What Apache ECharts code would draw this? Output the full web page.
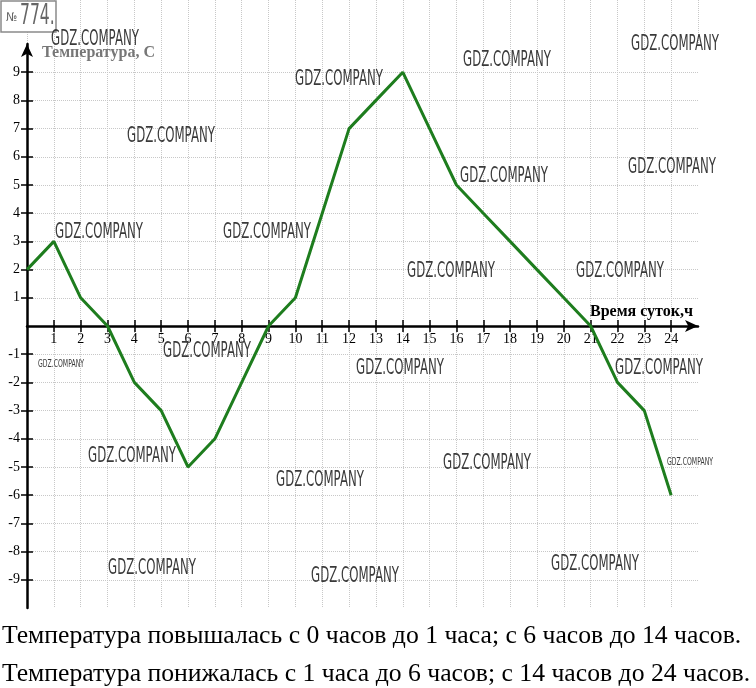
<!DOCTYPE html>
<html><head><meta charset="utf-8">
<script src="https://cdn.jsdelivr.net/npm/echarts@6/dist/echarts.min.js"></script>
<style>html,body{margin:0;padding:0;background:#fff}#c{width:756px;height:688px}</style>
</head><body><div id="c"></div>
<script>
const hours = [0,1,2,3,4,5,6,7,8,9,10,11,12,13,14,15,16,17,18,19,20,21,22,23,24];
const temps = [2,3,1,0,-2,-3,-5,-4,-2,0,1,4,7,8,9,7,5,4,3,2,1,0,-2,-3,-6];
const xTickValues = [1,2,3,4,5,6,7,8,9,10,11,12,13,14,15,16,17,18,19,20,21,22,23,24];
const yTickValues = [-9,-8,-7,-6,-5,-4,-3,-2,-1,1,2,3,4,5,6,7,8,9];
const xTitle = 'Время суток,ч';
const yTitle = 'Температура, С';
const line1 = 'Температура повышалась с 0 часов до 1 часа; с 6 часов до 14 часов.';
const line2 = 'Температура понижалась с 1 часа до 6 часов; с 14 часов до 24 часов.';
const wmText = 'GDZ.COMPANY';
const wmBig = [[95,40],[675,45],[507,61],[339,80],[171,137],[672,168],[504,177],[99,233],[267,233],[451,272],[620,272],[207,352],[400,369],[659,369],[132,457],[487,464],[320,481],[152,569],[355,577],[595,565]];
const wmSmall = [[61,364],[690,462]];

const G = {left:27, top:44, width:671, height:564};
const yMin = -10, yMax = 10;
// distance from grid bottom / top edge to the zero line (derived from the axis range)
const zeroFromBottom = G.height * (0 - yMin) / (yMax - yMin);
const zeroFromTop = G.height - zeroFromBottom;

const chart = echarts.init(document.getElementById('c'));
const gridLine = {color:'#c8c8c8', type:'dotted', width:1};
const axisBlack = {color:'#000', width:2.5};
const tickStyle = {color:'#000', width:1.5};

function wm(p, small){
  return {type:'text', x:p[0], y:p[1], scaleX: 0.56, scaleY: 1, z:100,
    style:{text:wmText, font: (small? '11px':'21px') + ' "DejaVu Sans"', fill:'#3a3a3a', align:'center', verticalAlign:'middle'}};
}
const graphics = [
  {type:'rect', shape:{x:1,y:1,width:55,height:31}, style:{fill:'#fff', stroke:'#8a8a8a', lineWidth:1.5}, z:100},
  {type:'text', x:6, y:18, style:{text:'№', font:'12px "DejaVu Sans Condensed"', fill:'#666', verticalAlign:'middle'}, z:101},
  {type:'text', x:20, y:17, scaleX:0.62, style:{text:'774.', font:'28px "DejaVu Sans Condensed"', fill:'#666', verticalAlign:'middle'}, z:101},
  {type:'text', x:42, y:53, style:{text:yTitle, font:'bold 16px "Liberation Serif"', fill:'#777', verticalAlign:'middle'}, z:50},
  {type:'text', x:590, y:312, style:{text:xTitle, font:'bold 16px "Liberation Serif"', fill:'#000', verticalAlign:'middle'}, z:50},
  {type:'text', x:2, y:636, style:{text:line1, font:'25.7px "Liberation Serif"', fill:'#000', verticalAlign:'middle'}, z:50},
  {type:'text', x:2, y:674, style:{text:line2, font:'25.7px "Liberation Serif"', fill:'#000', verticalAlign:'middle'}, z:50}
].concat(wmBig.map(p=>wm(p,false))).concat(wmSmall.map(p=>wm(p,true)));

chart.setOption({
  animation:false,
  backgroundColor:'#fff',
  grid:[
    G,
    {left:27, top:0, width:671, height:44}
  ],
  xAxis:[
    {gridIndex:0, type:'value', min:0, max:25, interval:1, position:'bottom', offset:-zeroFromBottom,
     axisLine:{show:true, onZero:false, lineStyle:axisBlack, symbol:['none','arrow'], symbolSize:[9,13]},
     axisTick:{show:true, length:6, customValues:xTickValues, lineStyle:tickStyle},
     axisLabel:{show:true, customValues:xTickValues, margin:6, fontFamily:'Liberation Serif', fontSize:14, color:'#000'},
     splitLine:{show:true, lineStyle:gridLine}},
    {gridIndex:0, type:'value', min:0, max:25, interval:1, position:'top', offset:-zeroFromTop,
     axisLine:{show:false, onZero:false},
     axisTick:{show:true, length:6, customValues:xTickValues, lineStyle:tickStyle},
     axisLabel:{show:false}, splitLine:{show:false}},
    {gridIndex:1, type:'value', min:0, max:25, interval:1,
     axisLine:{show:false}, axisTick:{show:false}, axisLabel:{show:false},
     splitLine:{show:true, lineStyle:gridLine}}
  ],
  yAxis:[
    {gridIndex:0, type:'value', min:yMin, max:yMax, interval:1, position:'left',
     axisLine:{show:true, onZero:false, lineStyle:axisBlack, symbol:['none','arrow'], symbolSize:[9,13]},
     axisTick:{show:true, length:6, customValues:yTickValues, lineStyle:tickStyle},
     axisLabel:{show:true, customValues:yTickValues, margin:7, fontFamily:'Liberation Serif', fontSize:14, color:'#000'},
     splitLine:{show:true, lineStyle:gridLine}},
    {gridIndex:0, type:'value', min:yMin, max:yMax, interval:1, position:'right', offset:-G.width,
     axisLine:{show:false, onZero:false},
     axisTick:{show:true, length:6, customValues:yTickValues, lineStyle:tickStyle},
     axisLabel:{show:false}, splitLine:{show:false}},
    {gridIndex:1, type:'value', min:0, max:1, show:false}
  ],
  series:[{
    type:'line', xAxisIndex:0, yAxisIndex:0,
    data: hours.map((h,i)=>[h,temps[i]]),
    symbol:'none', lineStyle:{color:'#1e7d1e', width:3}, z:10
  }],
  graphic: graphics
});
</script></body></html>
